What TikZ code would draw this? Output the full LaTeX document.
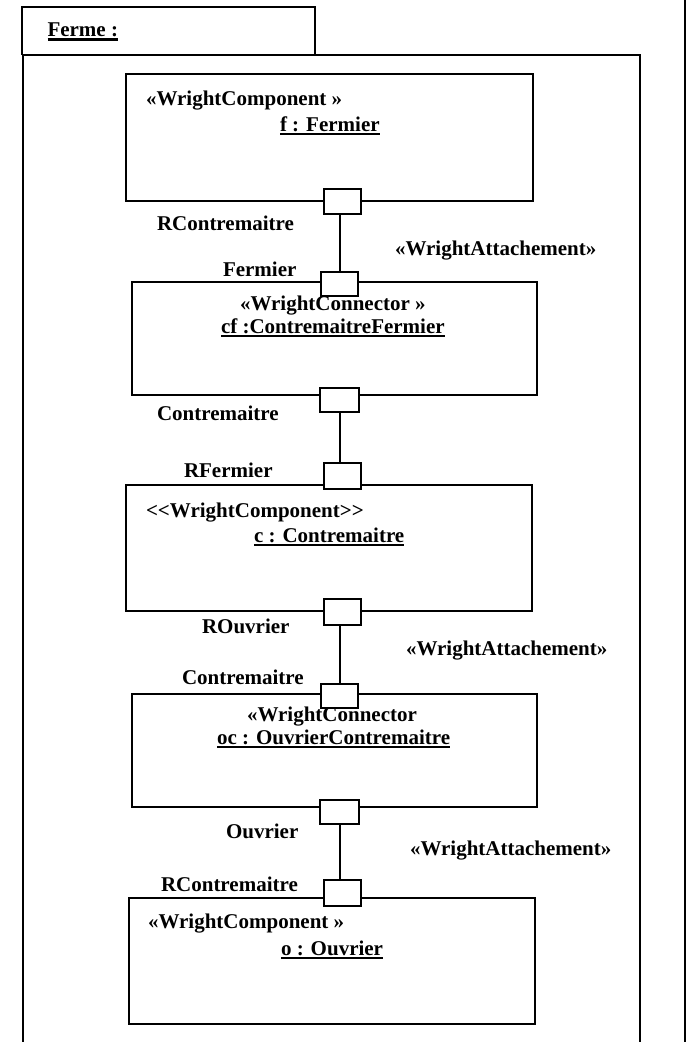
\documentclass[tikz,border=0pt]{standalone}
\usepackage{fontspec}
\setmainfont{Liberation Serif}
% underlined instance names with a heavy rule
\newcommand\ulword[1]{\vtop{\hbox{#1}\kern1.2pt\hrule height 2.6pt}}
\begin{document}
\begin{tikzpicture}[x=1pt,y=-1pt,
  txt/.style={anchor=base west,inner sep=0pt,outer sep=0pt,font=\fontsize{21}{24}\selectfont\bfseries},
  part/.style={draw,line width=2pt,inner sep=0pt,outer sep=0pt},
  port/.style={draw,fill=white,line width=2pt,minimum width=37pt,minimum height=24pt,inner sep=0pt,outer sep=0pt},
  wire/.style={line width=2pt},
  frameline/.style={line width=2pt}]
\useasboundingbox (0,0) rectangle (687,1042);

% enclosing frame with its name tab
\draw[frameline] (23,1042) -- (23,55) -- (640,55) -- (640,1042);
\draw[frameline] (22,55) -- (22,7) -- (315,7) -- (315,55);
\draw[frameline] (685,0) -- (685,1042);
\node[txt] (title) at (47.5,36.7) {\ulword{Ferme :}};

% component and connector instances
\node[part,minimum width=407pt,minimum height=127pt] (b1) at (329.5,137.5) {};
\node[part,minimum width=405pt,minimum height=113pt] (b2) at (334.5,338.5) {};
\node[part,minimum width=406pt,minimum height=126pt] (b3) at (329,548) {};
\node[part,minimum width=405pt,minimum height=113pt] (b4) at (334.5,750.5) {};
\node[part,minimum width=406pt,minimum height=126pt] (b5) at (332,961) {};

% ports on the instance borders
\node[port,minimum height=25pt] (p1) at (342.5,201.5) {};
\node[port] (p2) at (339.5,284) {};
\node[port,minimum width=39pt] (p3) at (339.5,399.5) {};
\node[port,minimum height=26pt] (p4) at (342.5,476) {};
\node[port,minimum height=26pt] (p5) at (342.5,612) {};
\node[port] (p6) at (339.5,695.5) {};
\node[port,minimum width=39pt] (p7) at (339.5,811.5) {};
\node[port,minimum height=26pt] (p8) at (342.5,893) {};

% attachments
\draw[wire] (p2.north |- p1.south) -- (p2.north);
\draw[wire] (p3.south) -- (p3.south |- p4.north);
\draw[wire] (p6.north |- p5.south) -- (p6.north);
\draw[wire] (p7.south) -- (p7.south |- p8.north);

% labels
\node[txt] (s1) at (146,105) {«WrightComponent »};
\node[txt] (n1) at (280,131) {\ulword{f : Fermier}};
\node[txt] (r1) at (157,230) {RContremaitre};
\node[txt] (a1) at (395,255) {«WrightAttachement»};
\node[txt] (r2) at (223,276) {Fermier};
\node[txt] (s2) at (240,310) {«WrightConnector »};
\node[txt] (n2) at (221,333) {\ulword{cf :ContremaitreFermier}};
\node[txt] (r3) at (157,420) {Contremaitre};
\node[txt] (r4) at (184,477) {RFermier};
\node[txt] (s3) at (146,517) {<\kern0pt<WrightComponent>\kern0pt>};
\node[txt] (n3) at (254,542) {\ulword{c : Contremaitre}};
\node[txt] (r5) at (202,633) {ROuvrier};
\node[txt] (a2) at (406,655) {«WrightAttachement»};
\node[txt] (r6) at (182,684) {Contremaitre};
\node[txt] (s4) at (247,721) {«WrightConnector};
\node[txt] (n4) at (217,744) {\ulword{oc : OuvrierContremaitre}};
\node[txt] (r7) at (226,838) {Ouvrier};
\node[txt] (a3) at (410,855) {«WrightAttachement»};
\node[txt] (r8) at (161,891) {RContremaitre};
\node[txt] (s5) at (148,928) {«WrightComponent »};
\node[txt] (n5) at (281,955) {\ulword{o : Ouvrier}};
\end{tikzpicture}
\end{document}
